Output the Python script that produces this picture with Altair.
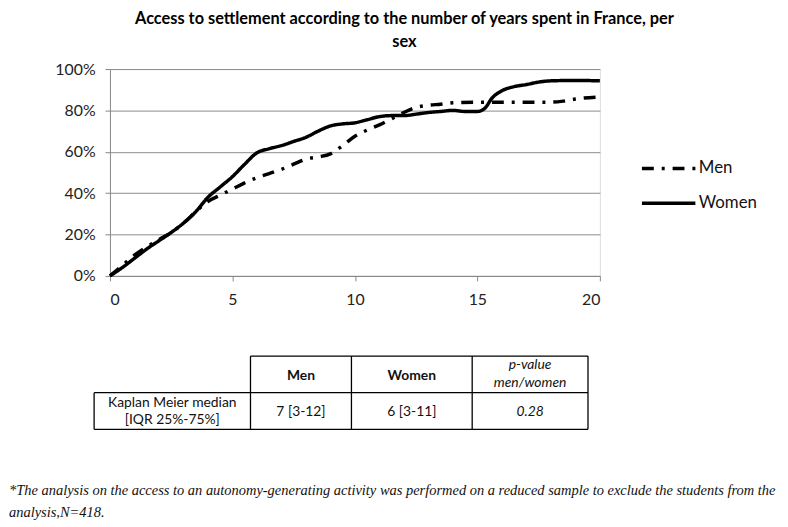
import altair as alt
import pandas as pd

# ---- data ----
women_years = [0, 0.5, 1, 1.5, 2, 2.5, 3, 3.5, 4, 4.5, 5, 5.5, 6, 6.5, 7, 7.5, 8, 8.5, 9, 9.5,
               10, 10.5, 11, 11.5, 12, 12.5, 13, 13.5, 14, 14.5, 15, 15.3, 15.6, 16, 16.5, 17,
               17.5, 18, 19, 20]
women_vals = [0, 4, 8.5, 13, 17, 21, 25.5, 31, 38, 43, 48, 54, 59.5, 61.5, 63, 65, 67, 70, 72.5, 73.5,
              74, 75.5, 77, 77.5, 77.5, 78.2, 79, 79.5, 80, 79.5, 79.5, 81, 86, 89.5, 91.5, 92.5,
              93.7, 94.3, 94.5, 94.3]
men_years = [0, 0.5, 1, 1.5, 2, 2.5, 3, 3.5, 4, 4.5, 5, 5.5, 6, 6.5, 7, 7.5, 8, 8.5, 9, 9.5,
             10, 10.5, 11, 11.5, 12, 12.5, 13, 13.5, 14, 15, 16, 17, 18, 18.5, 19, 20]
men_vals = [0, 5, 10, 14, 17.5, 21, 25.5, 31, 36, 39, 42, 45, 47.5, 49.5, 51.5, 54, 56.5, 57.5, 59, 63,
            67.5, 70.5, 73, 76, 79, 81.5, 82.5, 83, 83.7, 84, 84, 84, 84, 84.5, 85.5, 86.5]

series_names = ["Men", "Women"]
x_ticks = [0, 5, 10, 15, 20]
y_ticks = [0, 0.2, 0.4, 0.6, 0.8, 1.0]

title_lines = ["Access to settlement according to the number of years spent in France, per", "sex"]

table_header = ["Men", "Women"]
table_pvalue_header = ["p-value", "men/women"]
table_row_label = ["Kaplan Meier median", "[IQR 25%-75%]"]
table_values = ["7 [3-12]", "6 [3-11]"]
table_pvalue = "0.28"
footnote_lines = [
    "*The analysis on the access to an autonomy-generating activity was performed on a reduced sample to exclude the students from the",
    "analysis,N=418.",
]

# ---- build table ----
rows = []
for y, v in zip(men_years, men_vals):
    rows.append({"years": y, "share": v / 100, "sex": "Men", "order": y})
for y, v in zip(women_years, women_vals):
    rows.append({"years": y, "share": v / 100, "sex": "Women", "order": y})
df = pd.DataFrame(rows)

FONT = "Lato"
W, H = 495, 209

lines = alt.Chart(df).mark_line(
    interpolate="monotone", strokeWidth=3.5, color="black", clip=False
).encode(
    x=alt.X("years:Q", scale=alt.Scale(domain=[0, 20], nice=False),
            axis=alt.Axis(values=x_ticks, title=None, grid=False, labelFontSize=16,
                          labelFont=FONT, labelColor="#222", domainColor="#888",
                          tickColor="#888", tickSize=5, labelPadding=11)),
    y=alt.Y("share:Q", scale=alt.Scale(domain=[0, 1], nice=False),
            axis=alt.Axis(values=y_ticks, format=".0%", title=None, grid=True,
                          gridColor="#8c8c8c", gridWidth=1, labelFontSize=16,
                          labelFont=FONT, labelColor="#222", domainColor="#888",
                          tickColor="#888", tickSize=5, labelPadding=10)),
    strokeDash=alt.StrokeDash(
        "sex:N",
        scale=alt.Scale(domain=series_names, range=[[12, 8, 3, 8], [1, 0]]),
        legend=alt.Legend(
            title=None, orient="none", legendX=549, legendY=85,
            symbolType="M-2,0H2", symbolSize=729, symbolStrokeWidth=3.5,
            symbolStrokeColor="black", labelFont=FONT, labelFontSize=17,
            labelColor="#111", labelOffset=15, rowPadding=11,
        ),
    ),
    order="order:Q",
)

# table borders
hlines = pd.DataFrame({
    "x": [142, -16, -16], "x2": [483, 483, 483], "y": [290, 327, 364]
})
vlines = pd.DataFrame({
    "x": [-16, 142, 244, 366, 483], "y": [327, 290, 290, 290, 290], "y2": [364] * 5
})
layers = [lines]
for _, r in hlines.iterrows():
    layers.append(alt.Chart(df.head(1)).mark_rule(color="black", strokeWidth=1.3).encode(
        x=alt.value(r.x), x2=alt.value(r.x2), y=alt.value(r.y)))
for _, r in vlines.iterrows():
    layers.append(alt.Chart(df.head(1)).mark_rule(color="black", strokeWidth=1.3).encode(
        x=alt.value(r.x), y=alt.value(r.y), y2=alt.value(r.y2)))


def txt(text, x, y, size=14, weight="normal", style="normal", font=FONT, align="center"):
    return alt.Chart(df.head(1)).mark_text(
        text=text, fontSize=size, fontWeight=weight, fontStyle=style, font=font,
        align=align, baseline="alphabetic", color="#111"
    ).encode(x=alt.value(x), y=alt.value(y))


layers += [
    txt(table_header[0], 193, 314, weight="bold"),
    txt(table_header[1], 305, 314, weight="bold"),
    txt(table_pvalue_header[0], 424.5, 303, style="italic"),
    txt(table_pvalue_header[1], 424.5, 321, style="italic"),
    txt(table_row_label[0], 63, 341),
    txt(table_row_label[1], 63, 359),
    txt(table_values[0], 193, 351),
    txt(table_values[1], 305, 351),
    txt(table_pvalue, 424.5, 351, style="italic"),
    txt(footnote_lines[0], -102, 430, size=14.6, style="italic", font="Liberation Serif", align="left"),
    txt(footnote_lines[1], -102, 453, size=14.6, style="italic", font="Liberation Serif", align="left"),
]

chart = alt.layer(*layers).properties(
    width=W, height=H,
    title=alt.TitleParams(title_lines, font=FONT, fontSize=16.5, fontWeight="bold",
                          color="black", anchor="middle", dx=50, offset=11, lineHeight=23),
    padding={"left": 103, "top": 59, "right": 182, "bottom": 251},
    autosize=alt.AutoSizeParams(type="none"),
).configure_view(stroke=None).configure(background="white")

chart.save("out.html", embed_options={"renderer": "svg", "actions": False})
